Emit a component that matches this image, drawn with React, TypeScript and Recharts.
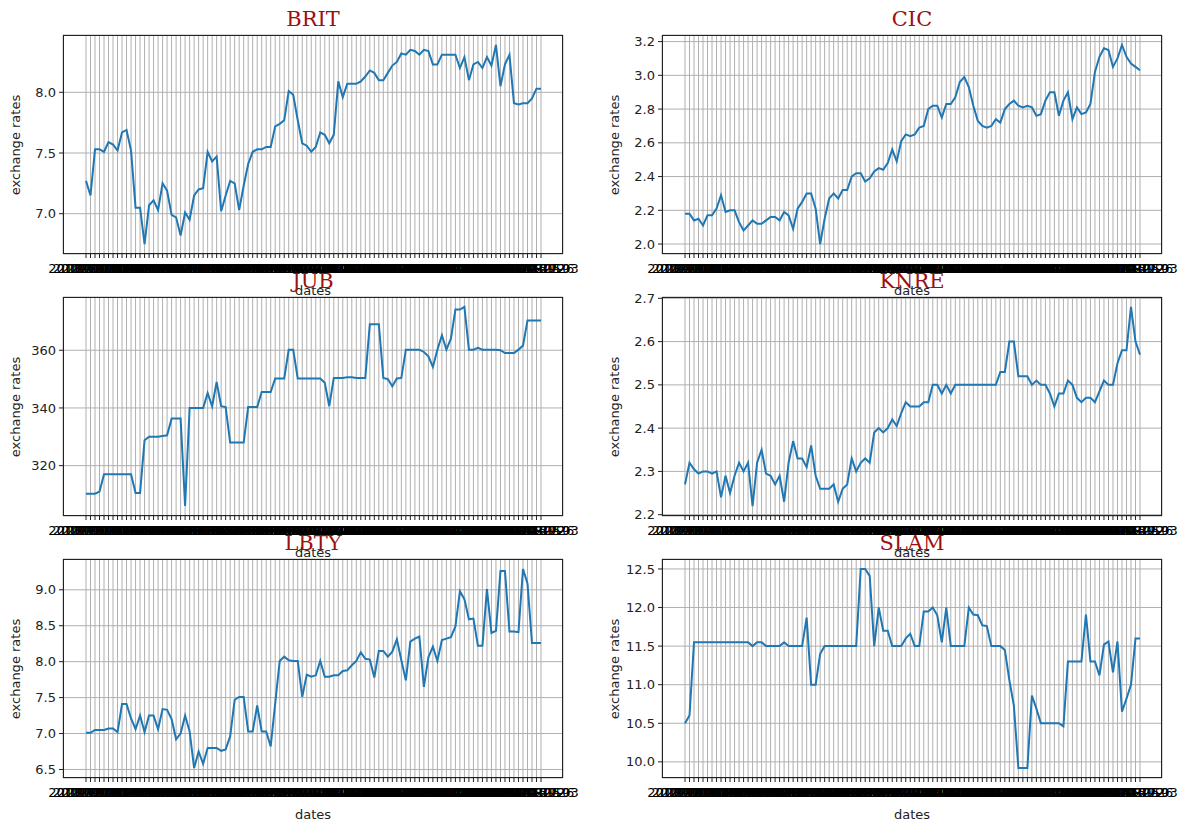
import React from "react";
import { LineChart, Line, XAxis, YAxis, CartesianGrid } from "recharts";

// weekly observation dates (one category per point)
const DAY = 24 * 3600 * 1000;
const firstDate = Date.UTC(2018, 11, 27);
const dates: string[] = Array.from({ length: 102 }, (_, i) =>
  new Date(firstDate + i * 7 * DAY).toISOString().slice(0, 10)
);

const brit = [
  7.27, 7.15, 7.53, 7.53, 7.51, 7.59, 7.57, 7.52, 7.67, 7.69,
  7.52, 7.05, 7.05, 6.75, 7.07, 7.11, 7.03, 7.25, 7.19, 6.99,
  6.97, 6.82, 7.01, 6.95, 7.15, 7.2, 7.21, 7.51, 7.43, 7.47,
  7.02, 7.15, 7.27, 7.25, 7.03, 7.23, 7.41, 7.51, 7.53, 7.53,
  7.55, 7.55, 7.72, 7.74, 7.77, 8.01, 7.98, 7.77, 7.58, 7.56,
  7.51, 7.55, 7.67, 7.65, 7.58, 7.65, 8.09, 7.96, 8.07, 8.07,
  8.07, 8.09, 8.13, 8.18, 8.16, 8.1, 8.1, 8.16, 8.22, 8.25,
  8.32, 8.31, 8.35, 8.34, 8.31, 8.35, 8.34, 8.23, 8.23, 8.31,
  8.31, 8.31, 8.31, 8.2, 8.29, 8.1, 8.23, 8.25, 8.2, 8.29,
  8.22, 8.39, 8.05, 8.23, 8.31, 7.91, 7.9, 7.91, 7.91, 7.95,
  8.03, 8.03,
];

const cic = [
  2.18, 2.18, 2.14, 2.15, 2.11, 2.17, 2.17, 2.21, 2.29, 2.19,
  2.2, 2.2, 2.13, 2.08, 2.11, 2.14, 2.12, 2.12, 2.14, 2.16,
  2.16, 2.14, 2.19, 2.17, 2.09, 2.21, 2.25, 2.3, 2.3, 2.21,
  2.0, 2.15, 2.27, 2.3, 2.27, 2.32, 2.32, 2.4, 2.42, 2.42,
  2.37, 2.39, 2.43, 2.45, 2.44, 2.48, 2.56, 2.49, 2.61, 2.65,
  2.64, 2.65, 2.69, 2.7, 2.8, 2.82, 2.82, 2.75, 2.83, 2.83,
  2.87, 2.96, 2.99, 2.93, 2.82, 2.73, 2.7, 2.69, 2.7, 2.74,
  2.72, 2.8, 2.83, 2.85, 2.82, 2.81, 2.82, 2.81, 2.76, 2.77,
  2.85, 2.9, 2.9, 2.76, 2.85, 2.9, 2.74, 2.81, 2.77, 2.78,
  2.83, 3.02, 3.11, 3.16, 3.15, 3.05, 3.1, 3.18, 3.11, 3.07,
  3.05, 3.03,
];

const jub = [
  310.3, 310.3, 310.3, 311, 317, 317, 317, 317, 317, 317,
  317, 310.5, 310.5, 328.8, 330, 330, 330, 330.3, 330.5, 336.3,
  336.3, 336.3, 306, 340, 340, 340, 340, 345.2, 340.6, 349,
  340.6, 340.3, 328, 328, 328, 328, 340.3, 340.3, 340.3, 345.5,
  345.5, 345.5, 350.2, 350.2, 350.2, 360.2, 360.2, 350.2, 350.2, 350.2,
  350.2, 350.2, 350.2, 348.7, 340.6, 350.4, 350.4, 350.4, 350.6, 350.6,
  350.4, 350.4, 350.4, 369, 369, 369, 350.4, 350, 347.5, 350.2,
  350.4, 360.2, 360.2, 360.2, 360.2, 359.4, 357.9, 354.2, 360.2, 365.2,
  360.2, 364, 374.1, 374.1, 375, 360.2, 360.2, 360.8, 360.2, 360.2,
  360.2, 360.2, 360, 359, 359, 359, 360.2, 361.6, 370.3, 370.3,
  370.3, 370.3,
];

const knre = [
  2.27, 2.32, 2.305, 2.295, 2.3, 2.3, 2.295, 2.3, 2.24, 2.29,
  2.25, 2.29, 2.32, 2.3, 2.32, 2.22, 2.32, 2.35, 2.295, 2.29,
  2.27, 2.29, 2.23, 2.32, 2.37, 2.33, 2.33, 2.31, 2.36, 2.29,
  2.26, 2.26, 2.26, 2.27, 2.23, 2.26, 2.27, 2.33, 2.3, 2.32,
  2.33, 2.32, 2.39, 2.4, 2.39, 2.4, 2.42, 2.405, 2.435, 2.46,
  2.45, 2.45, 2.45, 2.46, 2.46, 2.5, 2.5, 2.48, 2.5, 2.48,
  2.5, 2.5, 2.5, 2.5, 2.5, 2.5, 2.5, 2.5, 2.5, 2.5,
  2.53, 2.53, 2.6, 2.6, 2.52, 2.52, 2.52, 2.5, 2.51, 2.5,
  2.5, 2.48, 2.45, 2.48, 2.48, 2.51, 2.5, 2.47, 2.46, 2.47,
  2.47, 2.46, 2.485, 2.51, 2.5, 2.5, 2.55, 2.58, 2.58, 2.68,
  2.6, 2.57,
];

const lbty = [
  7.01, 7.01, 7.05, 7.05, 7.05, 7.07, 7.07, 7.02, 7.41, 7.41,
  7.21, 7.06, 7.25, 7.02, 7.25, 7.25, 7.06, 7.34, 7.33, 7.2,
  6.92, 7.0, 7.25, 7.03, 6.52, 6.75, 6.58, 6.8, 6.8, 6.8,
  6.76, 6.78, 6.96, 7.47, 7.51, 7.51, 7.03, 7.03, 7.39, 7.03,
  7.03, 6.82, 7.42, 8.01, 8.07, 8.02, 8.01, 8.01, 7.51, 7.82,
  7.79, 7.81, 8.01, 7.79, 7.79, 7.81, 7.81, 7.87, 7.88, 7.95,
  8.01, 8.13, 8.04, 8.03, 7.78, 8.15, 8.15, 8.07, 8.14, 8.31,
  8.02, 7.74, 8.28, 8.32, 8.35, 7.65, 8.06, 8.21, 8.01, 8.3,
  8.32, 8.34, 8.49, 8.98, 8.87, 8.59, 8.6, 8.22, 8.22, 9.01,
  8.4, 8.43, 9.26, 9.26, 8.42, 8.42, 8.41, 9.29, 9.09, 8.26,
  8.26, 8.26,
];

const slam = [
  10.5, 10.6, 11.55, 11.55, 11.55, 11.55, 11.55, 11.55, 11.55, 11.55,
  11.55, 11.55, 11.55, 11.55, 11.55, 11.5, 11.55, 11.55, 11.5, 11.5,
  11.5, 11.5, 11.55, 11.5, 11.5, 11.5, 11.5, 11.87, 11.0, 11.0,
  11.4, 11.5, 11.5, 11.5, 11.5, 11.5, 11.5, 11.5, 11.5, 12.5,
  12.5, 12.41, 11.5, 12.0, 11.7, 11.7, 11.5, 11.5, 11.5, 11.6,
  11.66, 11.5, 11.5, 11.95, 11.95, 12.0, 11.9, 11.55, 12.0, 11.5,
  11.5, 11.5, 11.5, 12.0, 11.91, 11.9, 11.77, 11.76, 11.5, 11.5,
  11.5, 11.45, 11.06, 10.73, 9.92, 9.92, 9.92, 10.86, 10.69, 10.5,
  10.5, 10.5, 10.5, 10.5, 10.46, 11.3, 11.3, 11.3, 11.3, 11.91,
  11.3, 11.3, 11.12, 11.52, 11.56, 11.16, 11.56, 10.65, 10.82, 11.0,
  11.6, 11.6,
];

const britTicks = [7.0, 7.5, 8.0];
const cicTicks = [2.0, 2.2, 2.4, 2.6, 2.8, 3.0, 3.2];
const jubTicks = [320, 340, 360];
const knreTicks = [2.2, 2.3, 2.4, 2.5, 2.6, 2.7];
const lbtyTicks = [6.5, 7.0, 7.5, 8.0, 8.5, 9.0];
const slamTicks = [10.0, 10.5, 11.0, 11.5, 12.0, 12.5];

const PLOT_W = 500;
const PLOT_H = 219;
const Y_AXIS_W = 60;
const colX = [63, 662];
const rowY = [35, 297, 559];

const ink = "#222";
const sans = "DejaVu Sans, sans-serif";

// autoscale with a 5% margin on both ends
function paddedDomain(values: number[]): [number, number] {
  const lo = Math.min(...values);
  const hi = Math.max(...values);
  const pad = (hi - lo) * 0.05;
  return [lo - pad, hi + pad];
}

type PanelProps = {
  title: string;
  values: number[];
  ticks: number[];
  digits: number;
  x: number;
  y: number;
};

function Panel({ title, values, ticks, digits, x, y }: PanelProps) {
  const data = dates.map((d, i) => ({ date: d, rate: values[i] }));
  return (
    <>
      <div
        style={{
          position: "absolute",
          left: x - Y_AXIS_W,
          top: y - 10,
        }}
      >
        <LineChart
          width={Y_AXIS_W + PLOT_W + 25}
          height={PLOT_H + 50}
          data={data}
          margin={{ top: 10, right: 25, left: 0, bottom: 0 }}
        >
          <CartesianGrid stroke="#b0b0b0" strokeWidth={1} />
          <XAxis
            dataKey="date"
            interval={0}
            height={40}
            padding={{ left: 23, right: 22 }}
            axisLine={false}
            tickSize={4}
            tickMargin={6}
            tickLine={{ stroke: ink }}
            tick={{ fontSize: 13, fill: "#000", fontFamily: sans }}
          />
          <YAxis
            width={Y_AXIS_W}
            domain={paddedDomain(values)}
            ticks={ticks}
            allowDataOverflow
            axisLine={false}
            tickSize={4}
            tickMargin={3}
            tickLine={{ stroke: ink }}
            tick={{ fontSize: 13, fill: ink, fontFamily: sans }}
            tickFormatter={(v: number) => v.toFixed(digits)}
          />
          <Line
            type="linear"
            dataKey="rate"
            stroke="#1f77b4"
            strokeWidth={2}
            dot={false}
            isAnimationActive={false}
          />
        </LineChart>
      </div>
      {/* axes frame */}
      <div
        style={{
          position: "absolute",
          left: x,
          top: y,
          width: PLOT_W,
          height: PLOT_H,
          border: `1px solid ${ink}`,
          boxSizing: "border-box",
          pointerEvents: "none",
        }}
      />
      <div
        style={{
          position: "absolute",
          left: x,
          top: y + PLOT_H + 29,
          width: PLOT_W,
          textAlign: "center",
          fontFamily: sans,
          fontSize: 13,
          lineHeight: "16px",
          color: ink,
        }}
      >
        dates
      </div>
      <div
        style={{
          position: "absolute",
          left: x - 47 - 60,
          top: y + PLOT_H / 2 - 8,
          width: 120,
          textAlign: "center",
          fontFamily: sans,
          fontSize: 13,
          lineHeight: "16px",
          color: ink,
          transform: "rotate(-90deg)",
        }}
      >
        exchange rates
      </div>
      <div
        style={{
          position: "absolute",
          left: x,
          top: y - 29,
          width: PLOT_W,
          textAlign: "center",
          fontFamily: "DejaVu Serif, serif",
          fontSize: 21,
          lineHeight: "26px",
          color: "#9b1010",
        }}
      >
        {title}
      </div>
    </>
  );
}

export default function App() {
  return (
    <div
      style={{
        position: "absolute",
        left: 0,
        top: 0,
        width: 1187,
        height: 823,
        overflow: "hidden",
        background: "#fff",
      }}
    >
      <Panel title="BRIT" values={brit} ticks={britTicks} digits={1} x={colX[0]} y={rowY[0]} />
      <Panel title="CIC" values={cic} ticks={cicTicks} digits={1} x={colX[1]} y={rowY[0]} />
      <Panel title="JUB" values={jub} ticks={jubTicks} digits={0} x={colX[0]} y={rowY[1]} />
      <Panel title="KNRE" values={knre} ticks={knreTicks} digits={1} x={colX[1]} y={rowY[1]} />
      <Panel title="LBTY" values={lbty} ticks={lbtyTicks} digits={1} x={colX[0]} y={rowY[2]} />
      <Panel title="SLAM" values={slam} ticks={slamTicks} digits={1} x={colX[1]} y={rowY[2]} />
    </div>
  );
}
